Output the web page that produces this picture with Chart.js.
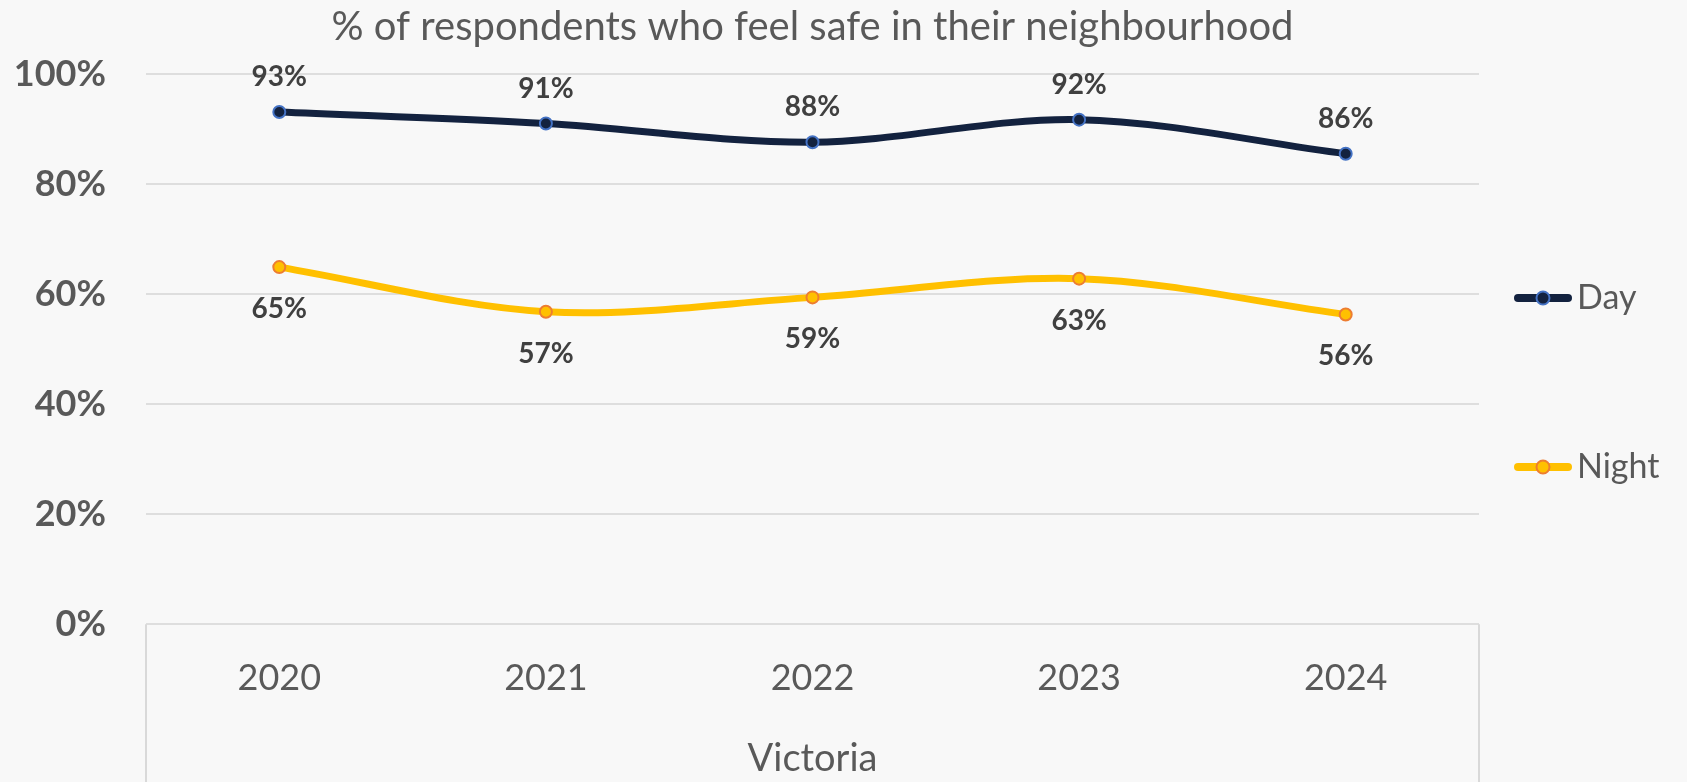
<!DOCTYPE html>
<html>
<head>
<meta charset="utf-8">
<script src="https://cdn.jsdelivr.net/npm/chart.js@4"></script>
<style>
    html, body { margin: 0; padding: 0; background: #f8f8f8; }
    canvas { display: block; }
</style>
</head>
<body>
<canvas id="chart" width="1687" height="782"></canvas>
<script>
const years = ["2020", "2021", "2022", "2023", "2024"];
const dayValues = [93.1, 91.0, 87.6, 91.7, 85.5];
const nightValues = [64.9, 56.8, 59.4, 62.8, 56.3];
const seriesNames = ["Day", "Night"];
const chartTitle = "% of respondents who feel safe in their neighbourhood";
const axisTitle = "Victoria";

const textGrey = "#595959";

// LABEL NILAI DI ATAS / BAWAH TITIK
const valueLabels = {
    id: "valueLabels",
    afterDatasetsDraw(chart) {
        const ctx = chart.ctx;
        ctx.save();
        ctx.font = "bold 28px Lato";
        ctx.fillStyle = "#404040";
        ctx.textAlign = "center";
        ctx.textBaseline = "middle";
        chart.data.datasets.forEach((ds, i) => {
            chart.getDatasetMeta(i).data.forEach((pt, j) => {
                ctx.fillText(Math.round(ds.data[j]) + "%", pt.x, pt.y + ds.labelOffset);
            });
        });
        ctx.restore();
    }
};

// LEGEND DI KANAN (garis + titik)
const sideLegend = {
    id: "sideLegend",
    afterDraw(chart) {
        const { ctx, chartArea } = chart;
        chart.data.datasets.forEach((ds, i) => {
            const x0 = chartArea.right + 35;
            const y = chartArea.top + 224 + i * 169;
            ctx.save();
            ctx.strokeStyle = ds.borderColor;
            ctx.lineWidth = 8;
            ctx.lineCap = "round";
            ctx.beginPath();
            ctx.moveTo(x0 + 4, y);
            ctx.lineTo(x0 + 54, y);
            ctx.stroke();
            ctx.beginPath();
            ctx.arc(x0 + 29, y, 6.5, 0, Math.PI * 2);
            ctx.fillStyle = ds.pointBackgroundColor;
            ctx.fill();
            ctx.lineWidth = 2;
            ctx.strokeStyle = ds.pointBorderColor;
            ctx.stroke();
            ctx.font = "34px Lato";
            ctx.fillStyle = textGrey;
            ctx.textAlign = "left";
            ctx.textBaseline = "middle";
            ctx.fillText(ds.label, x0 + 63, y);
            ctx.restore();
        });
    }
};

// KOTAK SUMBU KATEGORI DI BAWAH
const axisBox = {
    id: "axisBox",
    afterDraw(chart) {
        const { ctx, chartArea } = chart;
        ctx.save();
        ctx.strokeStyle = "#d9d9d9";
        ctx.lineWidth = 2;
        [chartArea.left, chartArea.right].forEach(x => {
            ctx.beginPath();
            ctx.moveTo(x, chartArea.bottom);
            ctx.lineTo(x, chart.height);
            ctx.stroke();
        });
        ctx.restore();
    }
};

Chart.defaults.font.family = "Lato";
Chart.defaults.color = textGrey;

new Chart(document.getElementById("chart"), {
    type: "line",
    data: {
        labels: years,
        datasets: [
            {
                label: seriesNames[0],
                data: dayValues,
                borderColor: "#13223f",
                borderWidth: 7,
                pointBackgroundColor: "#13223f",
                pointBorderColor: "#4472c4",
                pointBorderWidth: 2,
                pointRadius: 6,
                tension: 0.33,
                labelOffset: -35
            },
            {
                label: seriesNames[1],
                data: nightValues,
                borderColor: "#ffc000",
                borderWidth: 7,
                pointBackgroundColor: "#ffc000",
                pointBorderColor: "#ed7d31",
                pointBorderWidth: 2,
                pointRadius: 6,
                tension: 0.33,
                labelOffset: 42
            }
        ]
    },
    options: {
        responsive: false,
        animation: false,
        layout: { padding: { right: 208 } },
        plugins: {
            legend: { display: false },
            tooltip: { enabled: false },
            title: {
                display: true,
                text: chartTitle,
                fullSize: false,
                color: textGrey,
                font: { size: 40, weight: "normal" },
                padding: { top: 3, bottom: 23 }
            }
        },
        scales: {
            x: {
                offset: true,
                grid: { display: false, drawTicks: false },
                border: { display: false },
                ticks: { font: { size: 36 }, padding: 33, color: textGrey },
                title: {
                    display: true,
                    text: axisTitle,
                    color: textGrey,
                    font: { size: 38 },
                    padding: { top: 3, bottom: 0 }
                }
            },
            y: {
                min: 0,
                max: 100,
                ticks: {
                    stepSize: 20,
                    padding: 40,
                    color: textGrey,
                    font: { size: 36, weight: "bold" },
                    callback: v => v + "%"
                },
                grid: { color: "#dedede", lineWidth: 2, drawTicks: false },
                border: { display: false },
                afterFit: s => { s.width = 146; }
            }
        }
    },
    plugins: [valueLabels, sideLegend, axisBox]
});
</script>
</body>
</html>
